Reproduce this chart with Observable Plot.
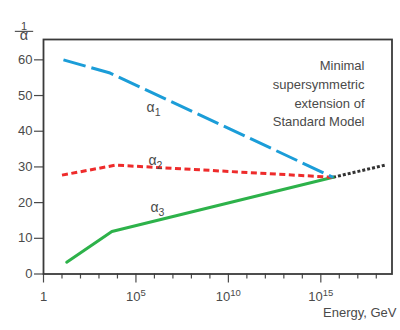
<!DOCTYPE html>
<html><head><meta charset="utf-8">
<script src="https://cdn.jsdelivr.net/npm/d3@7"></script>
<script src="https://cdn.jsdelivr.net/npm/@observablehq/plot@0.6"></script>
<style>body{margin:0;background:#fff}</style>
</head><body><div id="chart"></div>
<script>
// Inverse coupling 1/α vs energy (GeV)
const alpha1Energy = [12, 4e3, 4.6e15];
const alpha1Value = [60.0, 56.3, 27.1];
const alpha2Energy = [10, 8e3, 4.6e15];
const alpha2Value = [27.7, 30.5, 27.1];
const alpha3Energy = [18, 5e3, 4.6e15];
const alpha3Value = [3.3, 11.9, 27.1];
const extEnergy = [4.6e15, 3.6e18];
const extValue = [27.1, 30.6];

const yTicks = [0, 10, 20, 30, 40, 50, 60];
const xMajorTicks = [1, 1e5, 1e10, 1e15];
const xMajorLabels = ["1", "10⁵", "10¹⁰", "10¹⁵"];
const xMinorTicks = [1e1, 1e2, 1e3, 1e4, 1e6, 1e7, 1e8, 1e9, 1e11, 1e12, 1e13, 1e14, 1e16, 1e17, 1e18];

const curveLabels = ["α₁", "α₂", "α₃"];
const curveLabelEnergy = [10 ** 5.95, 10 ** 6.05, 10 ** 6.16];
const curveLabelValue = [46.6, 31.7, 18.6];

const noteText = "Minimal\nsupersymmetric\nextension of\nStandard Model";
const xTitle = "Energy, GeV";
const yTitle = "\u00A0\u00A01\u00A0\u00A0\nα"; // numerator (underlined as fraction bar) over α

const pts = (E, V) => E.map((e, i) => ({e, v: V[i]}));
const labelData = curveLabels.map((t, i) => ({t, e: curveLabelEnergy[i], v: curveLabelValue[i]}));
const majorFmt = new Map(xMajorTicks.map((t, i) => [t, xMajorLabels[i]]));

const gray = "#4a4a4a";
const font = "'Liberation Sans', Arial, Helvetica, sans-serif";

const chart = Plot.plot({
  width: 400,
  height: 330,
  marginLeft: 43,
  marginRight: 8.5,
  marginTop: 39,
  marginBottom: 56.5,
  style: {fontFamily: font, fontSize: "13px", color: gray, background: "#fff"},
  x: {type: "log", domain: [1, 10 ** 18.85]},
  y: {domain: [0, 65.7]},
  marks: [
    Plot.axisY(yTicks, {tickSize: 9, tickPadding: 2, fontSize: 13, stroke: gray, fill: gray, label: null, strokeWidth: 1.2}),
    Plot.axisX(xMinorTicks, {tickSize: 5, fill: "none", stroke: gray, label: null, strokeWidth: 1.2}),
    Plot.axisX(xMajorTicks, {tickSize: 9, tickPadding: 9, fontSize: 13, stroke: gray, fill: gray, label: null, strokeWidth: 1.2, tickFormat: d => majorFmt.get(d)}),
    Plot.line(pts(extEnergy, extValue), {x: "e", y: "v", stroke: "#333", strokeWidth: 3, strokeDasharray: "3,2", strokeLinecap: "butt"}),
    Plot.line(pts(alpha3Energy, alpha3Value), {x: "e", y: "v", stroke: "#2db24a", strokeWidth: 3}),
    Plot.line(pts(alpha2Energy, alpha2Value), {x: "e", y: "v", stroke: "#ee2b2b", strokeWidth: 3, strokeDasharray: "6,3.5", strokeLinecap: "butt"}),
    Plot.line(pts(alpha1Energy, alpha1Value), {x: "e", y: "v", stroke: "#1b9dd8", strokeWidth: 3, strokeDasharray: "23,6", strokeLinecap: "butt"}),
    Plot.text(labelData, {x: "e", y: "v", text: "t", fontSize: 14, fill: gray}),
    Plot.text([noteText], {frameAnchor: "top-right", dx: -27.5, dy: 17.8, lineAnchor: "top", textAnchor: "end", lineHeight: 1.43, fontSize: 13, fill: gray}),
    Plot.text([xTitle], {frameAnchor: "bottom-right", dx: 4.5, dy: 39, lineAnchor: "middle", textAnchor: "end", fontSize: 13, fill: gray}),
    Plot.text([yTitle], {frameAnchor: "top-left", dx: -19.5, dy: 0, lineAnchor: "top", textAnchor: "middle", fontSize: 13, fill: gray}),
    Plot.frame({stroke: "#3a3a3a", strokeWidth: 1.8})
  ]
});

// Typeset super/subscripts as raised/lowered smaller text
const SUP = "⁰¹²³⁴⁵⁶⁷⁸⁹", SUB = "₀₁₂₃₄₅₆₇₈₉";
const toDigits = (s, set) => [...s].map(c => set.indexOf(c)).join("");
d3.select(chart).selectAll("text").each(function() {
  const el = this;
  if (el.querySelector("tspan")) return;
  const s = el.textContent;
  const m = s.match(/^(.*?)([⁰¹²³⁴⁵⁶⁷⁸⁹]+|[₀₁₂₃₄₅₆₇₈₉]+)$/);
  if (!m) return;
  const isSup = SUP.includes(m[2][0]);
  el.textContent = m[1];
  const t = document.createElementNS("http://www.w3.org/2000/svg", "tspan");
  t.textContent = toDigits(m[2], isSup ? SUP : SUB);
  t.setAttribute("font-size", isSup ? "9.5" : "10.5");
  t.setAttribute("dy", isSup ? "-5.5" : "4");
  el.appendChild(t);
});

// Fraction label 1/α: numerator underlined to form the fraction bar
d3.select(chart).selectAll("text").each(function() {
  const sp = this.querySelectorAll("tspan");
  if (sp.length !== 2 || sp[1].textContent !== "α") return;
  sp.forEach(t => t.removeAttribute("dy"));
  sp[0].setAttribute("font-size", 11);
  sp[0].setAttribute("y", -9.7);
  sp[0].setAttribute("style", "text-decoration: underline; text-decoration-thickness: 1.3px; text-underline-offset: 1.4px;");
  sp[1].setAttribute("font-size", 14.5);
  sp[1].setAttribute("y", 0.3);
});

document.getElementById("chart").appendChild(chart);
</script>
</body></html>
